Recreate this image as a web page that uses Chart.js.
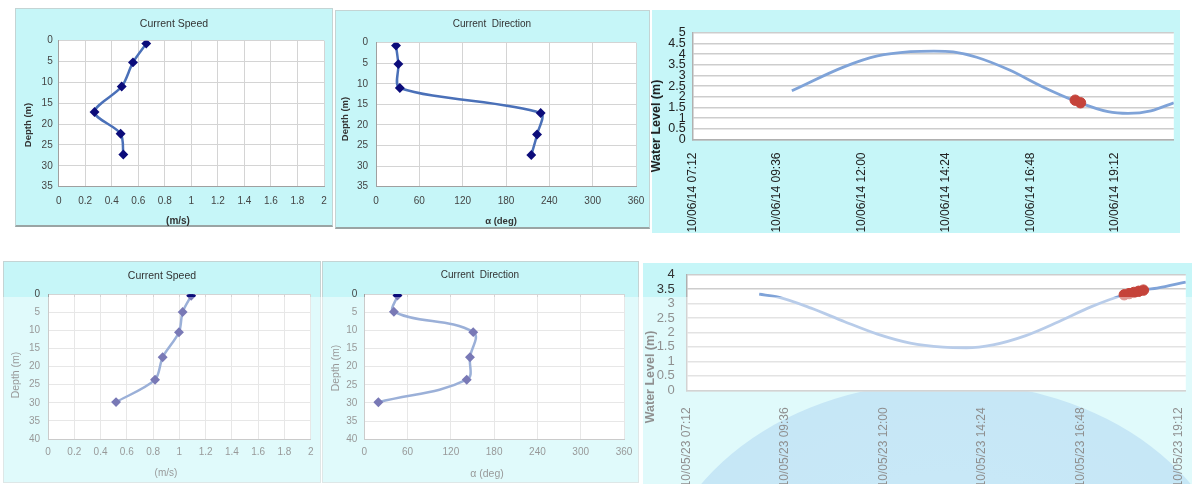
<!DOCTYPE html>
<html><head><meta charset="utf-8">
<script src="https://cdn.jsdelivr.net/npm/chart.js@4.4.1/dist/chart.umd.min.js"></script>
<style>
html,body{margin:0;padding:0;width:1192px;height:484px;overflow:hidden;background:#fff;font-family:"Liberation Sans",Arial,sans-serif;}
.panel{position:absolute;background:#c6f6f8;box-sizing:border-box;}
.lbl{position:absolute;white-space:pre;transform:translate(-50%,-50%);color:#333;line-height:1;}
.v{transform:translate(-50%,-50%) rotate(-90deg);}
canvas{position:absolute;}
#overlay{position:absolute;left:0;top:297px;width:1192px;height:187px;background:rgba(255,255,255,0.45);}
#ellipse{position:absolute;left:656px;top:382px;width:580px;height:440px;border-radius:50%;
 background:radial-gradient(ellipse at center, rgb(160,216,242) 0%, rgb(150,210,238) 82%, rgb(130,170,195) 96%, rgba(198,246,248,0) 100%);}
</style></head><body>

<div class="panel" style="left:15px;top:8px;width:318px;height:219px;border:1px solid #c4d4d4;border-bottom:2px solid #9aa4a4;"></div>
<div class="panel" style="left:335px;top:10px;width:315px;height:219px;border:1px solid #c4d4d4;border-bottom:2px solid #9aa4a4;"></div>
<div class="panel" style="left:652px;top:10px;width:528px;height:223px;"></div>
<div class="panel" style="left:3px;top:261px;width:318px;height:222px;border:1px solid #c4d4d4;"></div>
<div class="panel" style="left:322px;top:261px;width:317px;height:222px;border:1px solid #c4d4d4;"></div>
<div class="panel" style="left:643px;top:263px;width:549px;height:221px;"></div>
<div id="ellipse"></div>

<canvas id="c1"></canvas>
<canvas id="c2"></canvas>
<canvas id="c3"></canvas>
<canvas id="c4"></canvas>
<canvas id="c5"></canvas>
<canvas id="c6"></canvas>

<div class="lbl" style="left:174px;top:23px;font-size:10.5px;">Current Speed</div>
<div class="lbl" style="left:492px;top:24px;font-size:10px;">Current  Direction</div>
<div class="lbl v" style="left:28px;top:125px;font-size:9.5px;font-weight:bold;">Depth (m)</div>
<div class="lbl v" style="left:345px;top:119px;font-size:9.5px;font-weight:bold;">Depth (m)</div>
<div class="lbl" style="left:178px;top:221px;font-size:10px;font-weight:bold;">(m/s)</div>
<div class="lbl" style="left:501px;top:221px;font-size:9.5px;font-weight:bold;">α (deg)</div>
<div class="lbl v" style="left:656px;top:126px;font-size:12.5px;font-weight:bold;color:#222;">Water Level (m)</div>

<div class="lbl" style="left:162px;top:275px;font-size:10.5px;">Current Speed</div>
<div class="lbl" style="left:480px;top:275px;font-size:10px;">Current  Direction</div>
<div class="lbl v" style="left:15px;top:375px;font-size:10.5px;color:#444;">Depth (m)</div>
<div class="lbl v" style="left:335px;top:368px;font-size:10.5px;color:#444;">Depth (m)</div>
<div class="lbl" style="left:166px;top:473px;font-size:10px;color:#444;">(m/s)</div>
<div class="lbl" style="left:487px;top:473px;font-size:10.5px;color:#444;">α (deg)</div>
<div class="lbl v" style="left:650px;top:377px;font-size:12.5px;font-weight:bold;color:#333;">Water Level (m)</div>

<div id="overlay"></div>

<script>
// ---------- data ----------
const topDepths      = [0.7, 5.2, 11.0, 17.1, 22.3, 27.3];
const topSpeed       = [0.66, 0.56, 0.475, 0.27, 0.467, 0.487];
const topDirection   = [27.7, 31, 33, 228, 223, 215];
const botDepths      = [0.4, 4.9, 10.5, 17.4, 23.6, 29.8];
const botSpeed       = [1.09, 1.025, 0.997, 0.873, 0.815, 0.518];
const botDirection   = [46, 41, 151, 146.5, 142, 19.5];

const speedTickValues = [0, 0.2, 0.4, 0.6, 0.8, 1, 1.2, 1.4, 1.6, 1.8, 2];
const dirTickValues   = [0, 60, 120, 180, 240, 300, 360];
const depthTicksTop   = [0, 5, 10, 15, 20, 25, 30, 35];
const depthTicksBot   = [0, 5, 10, 15, 20, 25, 30, 35, 40];

// times in minutes after midnight
const topTideTimes  = [601, 691, 747, 803, 843, 876, 916, 972, 1028, 1084, 1140, 1174, 1213, 1252];
const topTideLevels = [2.28, 3.41, 3.91, 4.11, 4.14, 4.10, 3.85, 3.25, 2.47, 1.80, 1.30, 1.22, 1.34, 1.72];
const topObsTimes   = [1084, 1093];
const topObsLevels  = [1.84, 1.72];
const botTideTimes  = [538, 566, 614, 663, 711, 759, 807, 841, 880, 928, 976, 1024, 1072, 1101, 1120, 1162];
const botTideLevels = [3.32, 3.22, 2.84, 2.37, 1.94, 1.63, 1.49, 1.47, 1.57, 1.89, 2.37, 2.89, 3.30, 3.47, 3.53, 3.74];
const botObsTimes   = [1072, 1079, 1086, 1093, 1100];
const botObsLevels  = [3.30, 3.34, 3.38, 3.42, 3.46];

const timeTickMinutes = [432, 576, 720, 864, 1008, 1152];
const topTimeLabels = ["10/06/14 07:12","10/06/14 09:36","10/06/14 12:00","10/06/14 14:24","10/06/14 16:48","10/06/14 19:12"];
const botTimeLabels = ["10/05/23 07:12","10/05/23 09:36","10/05/23 12:00","10/05/23 14:24","10/05/23 16:48","10/05/23 19:12"];
const topLevelTicks = [0, 0.5, 1, 1.5, 2, 2.5, 3, 3.5, 4, 4.5, 5];
const botLevelTicks = [0, 0.5, 1, 1.5, 2, 2.5, 3, 3.5, 4];

// ---------- helpers ----------
const FONT = '"Liberation Sans", Arial, sans-serif';
const plotBg = { id:'plotBg', beforeDraw(chart){ const a = chart.chartArea; const ctx = chart.ctx;
  ctx.save(); ctx.fillStyle = '#ffffff'; ctx.fillRect(a.left, a.top, a.right - a.left, a.bottom - a.top); ctx.restore(); } };

function setup(id, r){
  const c = document.getElementById(id);
  c.width = r.w; c.height = r.h;
  c.style.left = r.x + 'px'; c.style.top = r.y + 'px';
  c.style.width = r.w + 'px'; c.style.height = r.h + 'px';
  return c;
}
function pin(r, p){
  return { padding:{left:0, top:p.t - r.y, right:(r.x + r.w) - p.r, bottom:0},
           yW: p.l - r.x, xH: (r.y + r.h) - p.b };
}
const pts = (xs, ys) => xs.map((x, i) => ({x:x, y:ys[i]}));
const fixX = h => s => { s.height = h; s.paddingLeft = 0; s.paddingRight = 0; };
const fixY = w => s => { s.width = w; s.paddingTop = 0; s.paddingBottom = 0; };
const plain = v => String(Math.round(v * 100) / 100);

function profile(id, r, p, xs, depths, xTicks, yTicks, o){
  const L = pin(r, p);
  const c = setup(id, r);
  return new Chart(c, {
    type:'scatter',
    data:{ datasets:[{ data: pts(xs, depths), showLine:true, borderColor:'#4a70b8', borderWidth:2.5,
      tension:o.tension, pointStyle:'rectRot', pointRadius:3.2, pointBackgroundColor:'#0c0c7a', pointBorderColor:'#0c0c7a' }]},
    options:{ responsive:false, animation:false, devicePixelRatio:1, events:[],
      layout:{ padding:L.padding },
      plugins:{ legend:{display:false}, tooltip:{enabled:false}, title:{display:false} },
      scales:{
        x:{ type:'linear', position:'bottom', min:xTicks[0], max:xTicks[xTicks.length-1],
            afterBuildTicks:s => { s.ticks = xTicks.map(v => ({value:v})); },
            ticks:{ padding:o.xPad, color:'#444', font:{family:FONT, size:10}, autoSkip:false, maxRotation:0, callback:plain },
            grid:{ color:'#d4d4d4', drawTicks:false }, border:{ color:'#a0a0a0' },
            afterFit:fixX(L.xH) },
        y:{ type:'linear', reverse:true, min:yTicks[0], max:yTicks[yTicks.length-1],
            afterBuildTicks:s => { s.ticks = yTicks.map(v => ({value:v})); },
            ticks:{ padding:o.yPad, color:'#444', font:{family:FONT, size:10}, autoSkip:false, callback:plain },
            grid:{ color:'#d4d4d4', drawTicks:false }, border:{ color:'#a0a0a0' },
            afterFit:fixY(L.yW) }
      }
    },
    plugins:[plotBg]
  });
}

function tide(id, r, p, times, levels, obsT, obsL, xMin, xMax, yTicks, labels, o){
  const L = pin(r, p);
  const c = setup(id, r);
  return new Chart(c, {
    type:'scatter',
    data:{ datasets:[
      { data: pts(obsT, obsL), showLine:false, pointRadius:5.2, pointBackgroundColor:'#c5433a', pointBorderColor:'#c5433a' },
      { data: pts(times, levels), showLine:true, borderColor:'#7fa3d8', borderWidth:2.8, pointRadius:0,
        cubicInterpolationMode:'monotone' }
    ]},
    options:{ responsive:false, animation:false, devicePixelRatio:1, events:[],
      layout:{ padding:L.padding },
      plugins:{ legend:{display:false}, tooltip:{enabled:false} },
      scales:{
        x:{ type:'linear', position:'bottom', min:xMin, max:xMax,
            afterBuildTicks:s => { s.ticks = timeTickMinutes.map(v => ({value:v})); },
            ticks:{ padding:o.xPad, color:o.tc, font:{family:FONT, size:o.xFont}, autoSkip:false,
                    minRotation:90, maxRotation:90, callback:(v, i) => labels[i] },
            grid:{ display:false }, border:{ color:'#b0b0b0', width:1.5 },
            afterFit:fixX(L.xH) },
        y:{ type:'linear', min:yTicks[0], max:yTicks[yTicks.length-1],
            afterBuildTicks:s => { s.ticks = yTicks.map(v => ({value:v})); },
            ticks:{ padding:o.yPad, color:o.tc, font:{family:FONT, size:o.yFont}, autoSkip:false, callback:plain },
            grid:{ color:'#cdcdcd', lineWidth:1.5, drawTicks:false }, border:{ color:'#b0b0b0', width:1.5 },
            afterFit:fixY(L.yW) }
      }
    },
    plugins:[plotBg]
  });
}

// ---------- charts ----------
profile('c1', {x:15, y:8, w:318, h:218}, {l:58.7, t:40.7, r:324, b:186.7},
        topSpeed, topDepths, speedTickValues, depthTicksTop, {tension:0.3, xPad:9, yPad:6});
profile('c2', {x:334, y:10, w:316, h:218}, {l:376, t:42.7, r:636, b:186.7},
        topDirection, topDepths, dirTickValues, depthTicksTop, {tension:0.3, xPad:9, yPad:8});
tide('c3', {x:645, y:10, w:535, h:240}, {l:692.7, t:32.7, r:1180, b:139.5},
     topTideTimes, topTideLevels, topObsTimes, topObsLevels, 432, 1252, topLevelTicks, topTimeLabels,
     {xPad:5, yPad:7, xFont:12, yFont:12.5, tc:'#222'});
profile('c4', {x:3, y:261, w:318, h:222}, {l:48, t:294.3, r:310.7, b:439},
        botSpeed, botDepths, speedTickValues, depthTicksBot, {tension:0.3, xPad:7, yPad:8});
profile('c5', {x:322, y:261, w:317, h:222}, {l:364.3, t:294, r:624, b:439.3},
        botDirection, botDepths, dirTickValues, depthTicksBot, {tension:0.4, xPad:7, yPad:7});
tide('c6', {x:640, y:263, w:552, h:221}, {l:686.7, t:274.5, r:1192, b:390.3},
     botTideTimes, botTideLevels, botObsTimes, botObsLevels, 432, 1162, botLevelTicks, botTimeLabels,
     {xPad:9, yPad:12, xFont:12, yFont:13, tc:'#333'});
</script>
</body></html>
